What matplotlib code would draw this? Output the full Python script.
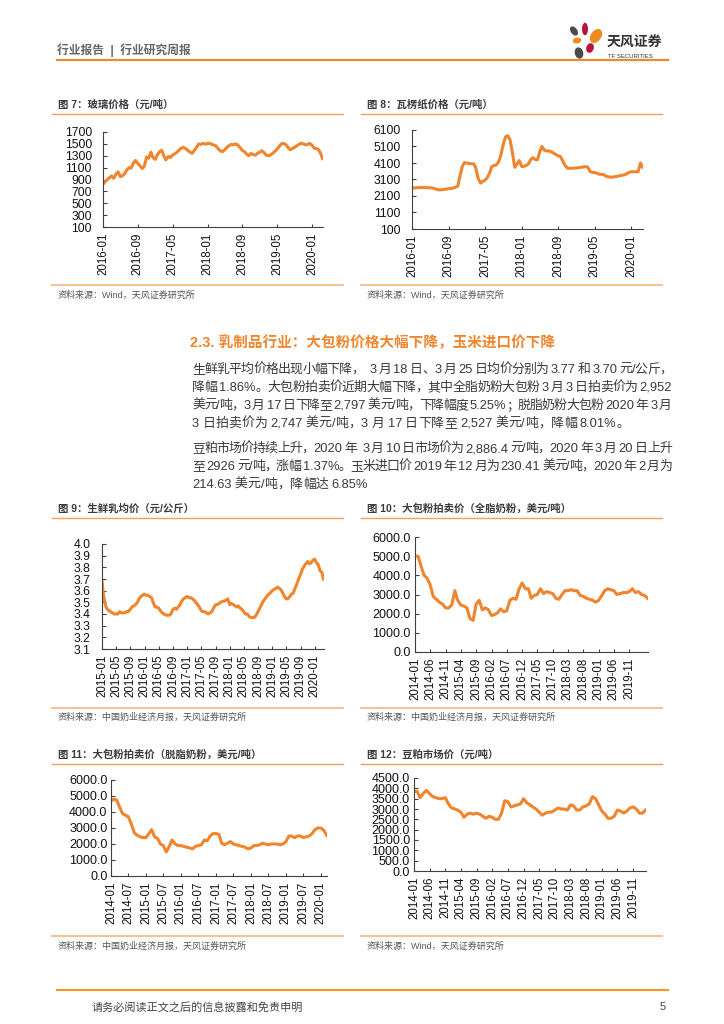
import re
import matplotlib
matplotlib.use('Agg')
import matplotlib.pyplot as plt
from matplotlib.patches import Ellipse
import pandas as pd

plt.rcParams['font.family'] = ['Liberation Sans', 'Noto Sans CJK SC']

# ---- data ----
glass_dates = pd.date_range('2016-01-01', periods=102, freq='SMS')
glass_price = [820, 860, 900, 930, 960, 920, 990, 1030, 950, 960,
               1000, 1060, 1100, 1090, 1180, 1220, 1170, 1130, 1085, 1120,
               1280, 1260, 1360, 1270, 1240, 1320, 1370, 1390, 1300, 1230,
               1290, 1270, 1310, 1330, 1360, 1390, 1430, 1440, 1420, 1390,
               1360, 1340, 1390, 1440, 1500, 1490, 1510, 1495, 1505, 1510,
               1490, 1480, 1465, 1420, 1380, 1370, 1400, 1440, 1470, 1490,
               1485, 1500, 1480, 1440, 1390, 1370, 1330, 1300, 1340, 1320,
               1310, 1340, 1360, 1385, 1350, 1310, 1300, 1310, 1340, 1370,
               1410, 1450, 1500, 1510, 1490, 1450, 1400, 1420, 1440, 1465,
               1490, 1510, 1500, 1485, 1490, 1510, 1480, 1430, 1420, 1405,
               1340, 1250]

paper_dates = pd.date_range('2016-01-01', periods=102, freq='SMS')
paper_price = [2580, 2590, 2600, 2610, 2615, 2615, 2610, 2600, 2600, 2580,
               2545, 2500, 2470, 2480, 2500, 2520, 2540, 2560, 2580, 2630,
               2700, 3300, 3900, 4120, 4090, 4070, 4050, 4050, 3800, 3200,
               2880, 2980, 3060, 3200, 3500, 3880, 3950, 3980, 4190, 4600,
               5290, 5690, 5750, 5500, 4650, 3840, 4050, 4250, 3880, 3900,
               3960, 4060, 4300, 4420, 4310, 4290, 4800, 5100, 4870, 4830,
               4830, 4790, 4700, 4620, 4530, 4490, 4220, 3970, 3780, 3780,
               3780, 3790, 3800, 3820, 3840, 3860, 3880, 3860, 3580, 3530,
               3520, 3480, 3420, 3410, 3400, 3300, 3260, 3240, 3250, 3270,
               3300, 3330, 3360, 3380, 3450, 3530, 3570, 3570, 3560, 3580,
               4100, 3850]

milk_dates = pd.date_range('2015-01-01', periods=126, freq='SMS')
milk_price = [3.68, 3.55, 3.47, 3.44, 3.43, 3.42, 3.41, 3.40, 3.40, 3.40,
              3.42, 3.41, 3.41, 3.41, 3.42, 3.42, 3.44, 3.46, 3.47, 3.48,
              3.50, 3.53, 3.55, 3.56, 3.57, 3.56, 3.56, 3.55, 3.54, 3.50,
              3.46, 3.46, 3.45, 3.43, 3.41, 3.40, 3.39, 3.39, 3.39, 3.40,
              3.44, 3.45, 3.44, 3.46, 3.48, 3.51, 3.53, 3.54, 3.55, 3.54,
              3.54, 3.53, 3.52, 3.50, 3.48, 3.46, 3.43, 3.42, 3.42, 3.41,
              3.40, 3.41, 3.42, 3.45, 3.48, 3.48, 3.49, 3.50, 3.51, 3.51,
              3.52, 3.53, 3.48, 3.49, 3.48, 3.47, 3.46, 3.47, 3.45, 3.44,
              3.42, 3.40, 3.40, 3.38, 3.37, 3.37, 3.37, 3.39, 3.42, 3.45,
              3.48, 3.51, 3.53, 3.55, 3.57, 3.58, 3.60, 3.61, 3.62, 3.63,
              3.62, 3.61, 3.58, 3.55, 3.53, 3.53, 3.55, 3.57, 3.58, 3.62,
              3.66, 3.70, 3.74, 3.78, 3.81, 3.83, 3.85, 3.83, 3.84, 3.86,
              3.87, 3.84, 3.82, 3.77, 3.76, 3.70]

wmp_dates = pd.date_range('2014-01-01', periods=77, freq='MS')
wmp_price = [5000, 5000, 4500, 4000, 3850, 3500, 2900, 2750, 2600, 2500,
             2300, 2300, 2450, 3200, 2700, 2450, 2400, 2300, 1750, 1650,
             2500, 2700, 2200, 2300, 2200, 1900, 1950, 2050, 2250, 2100,
             2150, 2700, 2800, 2750, 3300, 3600, 3300, 3300, 2800, 2950,
             3000, 3300, 3050, 3150, 3100, 3050, 2800, 2750, 3000, 3200,
             3200, 3250, 3200, 3200, 2950, 2900, 2800, 2750, 2700, 2600,
             2700, 2950, 3200, 3300, 3250, 3200, 3000, 3050, 3100, 3100,
             3150, 3300, 3100, 3150, 3000, 2950, 2800]

smp_dates = pd.date_range('2014-01-01', periods=75, freq='MS')
smp_price = [4700, 4800, 4750, 4300, 3900, 3800, 3700, 3250, 2700, 2550,
             2450, 2400, 2400, 2650, 2900, 2450, 2350, 2000, 1900, 1500,
             1850, 2250, 2000, 1900, 1900, 1850, 1800, 1750, 1700, 1850,
             1900, 1950, 2250, 2200, 2500, 2650, 2650, 2600, 2050, 1950,
             2050, 2150, 2000, 1950, 1900, 1850, 1800, 1700, 1750, 1900,
             1900, 1950, 2050, 2000, 1950, 2000, 2000, 2000, 1950, 2000,
             2150, 2500, 2500, 2400, 2500, 2500, 2400, 2450, 2500, 2650,
             2900, 3000, 3000, 2850, 2550]

soy_dates = pd.date_range('2014-01-01', periods=75, freq='MS')
soy_price = [3850, 3850, 3550, 3750, 3900, 3750, 3600, 3550, 3500, 3500,
             3550, 3250, 3050, 3000, 2950, 2850, 2600, 2750, 2800, 2750,
             2800, 2750, 2650, 2550, 2650, 2600, 2500, 2500, 2800, 3400,
             3350, 3100, 3150, 3200, 3250, 3500, 3300, 3200, 3100, 3000,
             2850, 2700, 2800, 2850, 2850, 2950, 3050, 3000, 3000, 2950,
             3200, 3150, 2950, 2950, 3100, 3150, 3250, 3600, 3500, 3200,
             2900, 2750, 2550, 2550, 2650, 2950, 2900, 2800, 2900, 3050,
             3100, 3000, 2800, 2800, 2950]

para1 = ['生鲜乳平均价格出现小幅下降，  3 月 18 日、3 月 25 日均价分别为 3.77 和 3.70 元/公斤，',
         '降幅 1.86%。大包粉拍卖价近期大幅下降，其中全脂奶粉大包粉 3 月 3 日拍卖价为 2,952',
         '美元/吨，3 月 17 日下降至 2,797 美元/吨，下降幅度 5.25%；脱脂奶粉大包粉 2020 年 3 月',
         '3 日拍卖价为 2,747 美元/吨，3 月 17 日下降至 2,527 美元/吨，降幅 8.01%。']
para2 = ['豆粕市场价持续上升，2020 年  3 月 10 日市场价为 2,886.4 元/吨，2020 年 3 月 20 日上升',
         '至 2926 元/吨，涨幅 1.37%。玉米进口价 2019 年 12 月为 230.41 美元/吨，2020 年 2 月为',
         '214.63 美元/吨，降幅达 6.85%']

W, H = 724, 1024
ORANGE = '#F0852D'
TEXT = '#3A3A3A'

fig = plt.figure(figsize=(W / 100, H / 100), dpi=100)
bg = fig.add_axes([0, 0, 1, 1])
bg.set_xlim(0, W)
bg.set_ylim(H, 0)
bg.axis('off')


def rect(l, t, r, b):
    return [l / W, 1 - b / H, (r - l) / W, (b - t) / H]


# header
bg.text(57, 50, '行业报告  |  行业研究周报', fontsize=8.5, color='#666666',
        fontweight='bold', va='center')
bg.plot([57, 668], [60, 60], color='#EE8A2E', lw=1.6)
petals = [(574, 31, 5, 9, -35, '#4A4A4A'), (585, 29, 4.5, 11, 0, '#B5143C'),
          (596, 36, 9, 14, 35, '#EF8A1E'), (577, 40.5, 7, 4.5, -10, '#EF8A1E'),
          (590, 48, 6, 8.5, 20, '#B5143C'), (579, 53, 7, 10, -15, '#4A4A4A')]
for cx, cy, w, h, a, c in petals:
    bg.add_patch(Ellipse((cx, cy), w, h, angle=a, color=c, zorder=3))
bg.text(607, 43, '天风证券', fontsize=10, fontweight='bold', color='#333333', va='center')
bg.text(608, 56, 'TF SECURITIES', fontsize=4.3, color='#333333', va='center')


def frame(xt, x0, x1, yt, yl, ysl, ys, title, src):
    bg.text(xt, yt, title, fontsize=7.5, fontweight='bold', color='#3C3C3C', va='center')
    bg.plot([x0, x1], [yl, yl], color='#F3A05A', lw=1.0)
    bg.plot([x0, x1], [ysl, ysl], color='#F7BC86', lw=1.3)
    bg.text(xt, ys, src, fontsize=6.5, color='#555555', va='center')


SRC_W = '资料来源：Wind，天风证券研究所'
SRC_M = '资料来源：中国奶业经济月报，天风证券研究所'
frame(58, 52, 343, 105, 114, 285, 295, '图 7：玻璃价格（元/吨）', SRC_W)
frame(367, 361, 662, 105, 114, 285, 295, '图 8：瓦楞纸价格（元/吨）', SRC_W)
frame(58, 52, 343, 509, 518, 708, 717, '图 9：生鲜乳均价（元/公斤）', SRC_M)
frame(367, 361, 662, 509, 518, 708, 717, '图 10：大包粉拍卖价（全脂奶粉，美元/吨）', SRC_M)
frame(58, 52, 343, 755, 764, 936, 946, '图 11：大包粉拍卖价（脱脂奶粉，美元/吨）', SRC_M)
frame(367, 361, 662, 755, 764, 936, 946, '图 12：豆粕市场价（元/吨）', SRC_W)


def chart(box, dates, values, yticks, fmt, ticks, xend, ypad, ysize):
    ax = fig.add_axes(rect(*box))
    ax.plot(dates, values, color=ORANGE, lw=2.2, solid_joinstyle='round')
    ax.set_ylim(yticks[0], yticks[-1])
    ax.set_yticks(yticks)
    ax.set_yticklabels([fmt.format(v) for v in yticks])
    ax.set_xticks(ticks)
    ax.set_xticklabels([d.strftime('%Y-%m') for d in ticks], rotation=90)
    ax.set_xlim(dates[0], pd.Timestamp(xend))
    for s in ['top', 'right']:
        ax.spines[s].set_visible(False)
    for s in ['left', 'bottom']:
        ax.spines[s].set_color('#404040')
        ax.spines[s].set_linewidth(0.8)
    ax.tick_params(axis='y', direction='in', length=3, width=0.8, pad=ypad,
                   labelsize=ysize, colors='#404040', labelcolor='#111111')
    ax.tick_params(axis='x', direction='in', length=2, width=0.8, pad=4,
                   labelsize=8.3, colors='#404040', labelcolor='#111111')
    ax.patch.set_alpha(0)
    return ax


chart((103, 132, 323, 227), glass_dates, glass_price, list(range(100, 1701, 200)), '{}',
      pd.date_range('2016-01-01', '2020-01-01', freq='8MS'), '2020-03-18', 8, 8.7)
chart((412, 130, 643, 229), paper_dates, paper_price, list(range(100, 6101, 1000)), '{}',
      pd.date_range('2016-01-01', '2020-01-01', freq='8MS'), '2020-03-18', 8, 8.7)
chart((102, 544, 324, 649), milk_dates, milk_price, [round(3.1 + 0.1 * i, 1) for i in range(10)],
      '{:.1f}', pd.date_range('2015-01-01', '2020-01-01', freq='4MS'), '2020-03-20', 8, 8.7)
chart((415, 537, 648, 652), wmp_dates, wmp_price, list(range(0, 6001, 1000)), '{:.1f}',
      pd.date_range('2014-01-01', '2019-11-01', freq='5MS'), '2020-05-05', 3, 9)
chart((111, 780, 327, 876), smp_dates, smp_price, list(range(0, 6001, 1000)), '{:.1f}',
      pd.date_range('2014-01-01', '2020-01-01', freq='6MS'), '2020-03-05', 2.5, 9)
chart((414, 778, 646, 871), soy_dates, soy_price, list(range(0, 4501, 500)), '{:.1f}',
      pd.date_range('2014-01-01', '2019-11-01', freq='5MS'), '2020-03-05', 3, 9)

# section heading and body text
bg.text(190, 343, '2.3. 乳制品行业：大包粉价格大幅下降，玉米进口价下降', fontsize=10.5,
        fontweight='bold', color=ORANGE, va='center')

renderer = fig.canvas.get_renderer()


def body_line(y, s, justify, x0=192, x1=672):
    toks = re.findall(r'[0-9A-Za-z.,%/]+| +|.', s)
    items = []
    for t in toks:
        if t.strip() == '':
            items.append((None, 3.3 * len(t)))
        else:
            o = bg.text(0, y, t, fontsize=9.3, color=TEXT, va='center', ha='left')
            items.append((o, o.get_window_extent(renderer).width))
    total = sum(w for _, w in items)
    extra = (x1 - x0 - total) / (len(items) - 1) if justify else 0
    x = x0
    for o, w in items:
        if o is not None:
            o.set_x(x)
        x += w + extra


for i, line in enumerate(para1):
    body_line(370 + 18 * i, line, i < len(para1) - 1)
for i, line in enumerate(para2):
    body_line(449 + 18 * i, line, i < len(para2) - 1)

# footer
bg.plot([57, 668], [990, 990], color='#EE9A2E', lw=1.6)
bg.text(92, 1007, '请务必阅读正文之后的信息披露和免责申明', fontsize=8, color='#444444', va='center')
bg.text(666, 1007, '5', fontsize=8, color='#444444', va='center', ha='right')

fig.savefig('out.png', dpi=100)
